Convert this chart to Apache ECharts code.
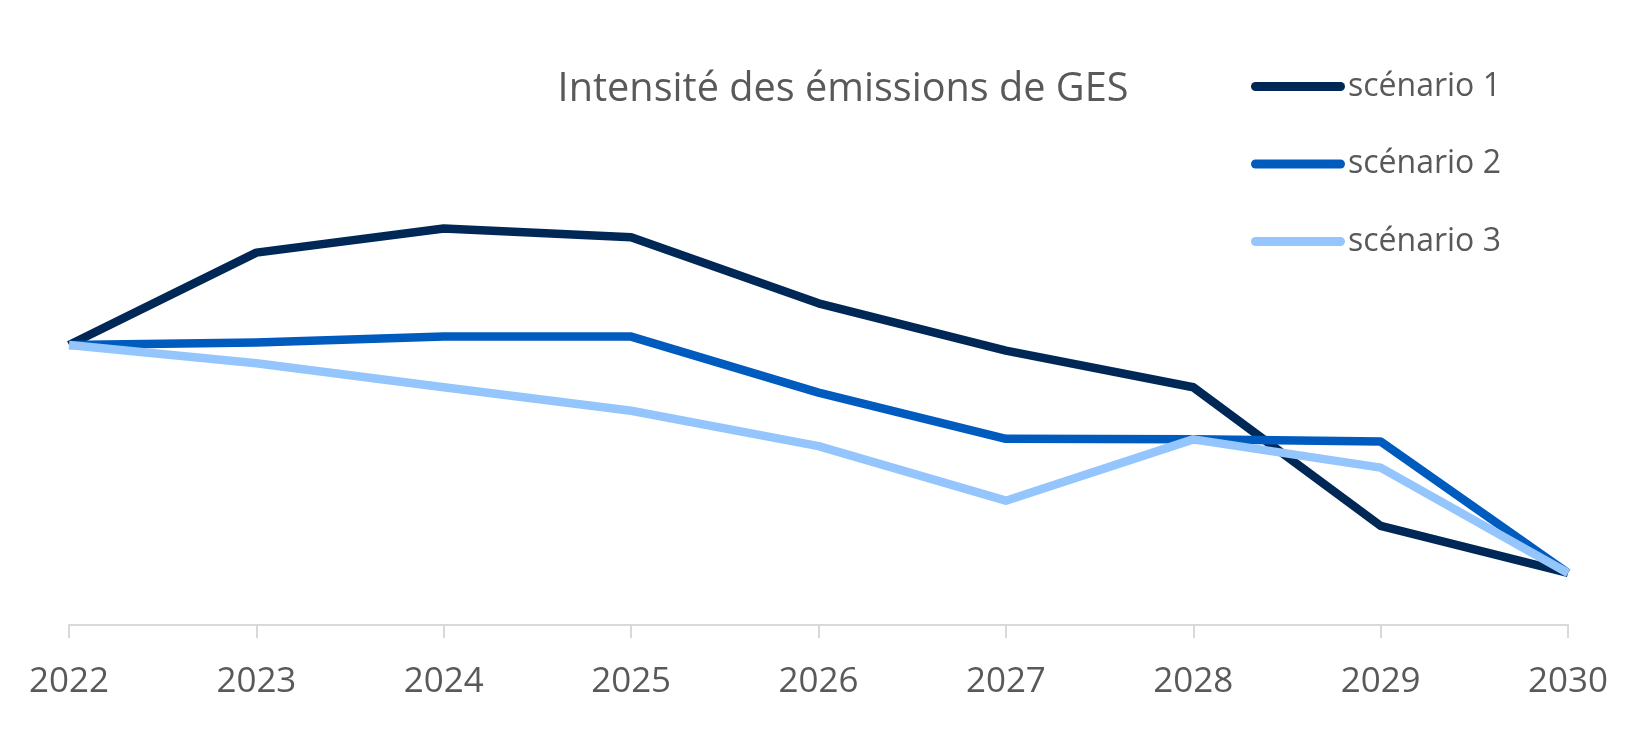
<!DOCTYPE html>
<html>
<head>
<meta charset="utf-8">
<script src="https://cdn.jsdelivr.net/npm/echarts@6/dist/echarts.min.js"></script>
<style>
html,body{margin:0;padding:0;background:#fff;}
#chart{width:1637px;height:741px;}
</style>
</head>
<body>
<div id="chart"></div>
<script>
// ---- data ----
const years = ['2022','2023','2024','2025','2026','2027','2028','2029','2030'];
const seriesNames = ['scénario 1','scénario 2','scénario 3'];
const scenario1 = [100, 133.0, 141.6, 138.5, 114.9, 98.0, 84.9, 35.4, 18.6];
const scenario2 = [100, 100.9, 103.0, 103.0, 83.0, 66.5, 66.3, 65.5, 18.6];
const scenario3 = [100, 93.5, 84.9, 76.5, 63.9, 44.4, 66.3, 56.2, 18.6];
const titleText = 'Intensité des émissions de GES';

// ---- styles ----
const FONT = '"Open Sans", "Noto Sans", sans-serif';
const colors = ['#002857', '#005BBF', '#94C5FC'];
const textColor = '#595959';

function fit(text, target) {
  const c = document.createElement('canvas').getContext('2d');
  c.font = '100px ' + FONT;
  return 100 * target / c.measureText(text).width;
}
const titleSize = fit(titleText, 571);
const axisSize = fit('2022', 80);
const legendSize = fit('scénario 1', 153);

const chart = echarts.init(document.getElementById('chart'), null, {renderer: 'canvas'});
const allData = [scenario1, scenario2, scenario3];

chart.setOption({
  animation: false,
  color: colors,
  title: {
    text: titleText,
    left: 838,
    textAlign: 'center',
    top: 92 - titleSize * 0.68,
    textStyle: {fontFamily: FONT, fontSize: titleSize, fontWeight: 'normal', color: textColor}
  },
  legend: {
    orient: 'vertical',
    left: 1246,
    top: 80.5 - 15,
    itemWidth: 94,
    itemHeight: 9,
    itemGap: 78 - 32.5,
    icon: 'path://M4.5,0 L89.5,0 A4.5,4.5 0 0 1 89.5,9 L4.5,9 A4.5,4.5 0 0 1 4.5,0 Z',
    textStyle: {fontFamily: FONT, fontSize: legendSize, color: textColor, lineHeight: 30, padding: [0,0,0,-2]},
    data: seriesNames
  },
  grid: {left: 69, right: 69, top: 177, bottom: 741 - 625, containLabel: false},
  xAxis: {
    type: 'category',
    data: years,
    boundaryGap: false,
    axisLine: {lineStyle: {color: '#D9D9D9', width: 2}},
    axisTick: {show: true, length: 13, lineStyle: {color: '#D9D9D9', width: 2}},
    axisLabel: {fontFamily: FONT, fontSize: axisSize, color: textColor, margin: 57 - axisSize / 2}
  },
  yAxis: {
    type: 'value',
    min: 0,
    max: 160,
    show: false,
    splitLine: {show: false}
  },
  series: seriesNames.map((n, i) => ({
    name: n,
    type: 'line',
    data: allData[i],
    showSymbol: false,
    symbol: 'none',
    lineStyle: {width: 8.5, color: colors[i], join: 'round', cap: 'butt'},
    itemStyle: {color: colors[i]},
    z: 2 + i
  }))
});
</script>
</body>
</html>
